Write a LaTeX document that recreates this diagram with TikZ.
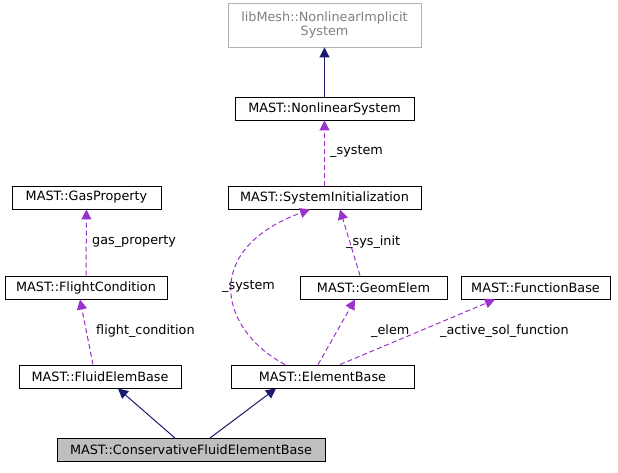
\documentclass[tikz,border=0pt]{standalone}
\usepackage{fontspec}
\setmainfont{DejaVu Sans}
\usetikzlibrary{arrows.meta}
\definecolor{navy}{HTML}{191970}
\definecolor{usecol}{HTML}{9A32CD}
\tikzset{cls/.style={draw,rectangle,line width=0.9pt,minimum height=23pt,inner xsep=4pt,font=\fontsize{12.8}{14.5}\selectfont}}
\tikzset{ext/.style={cls,draw=gray!60,text=gray,align=center}}
\tikzset{inh/.style={navy,line width=1pt,-{Triangle[length=10pt,width=10pt]}}}
\tikzset{use/.style={usecol,line width=1pt,dash pattern=on 5pt off 3pt,-{Triangle[length=10pt,width=10pt]}}}
\tikzset{lbl/.style={font=\fontsize{12.8}{14.5}\selectfont,anchor=west,inner sep=0pt}}

\begin{document}
\begin{tikzpicture}[x=1pt,y=-1pt]
    \useasboundingbox (0,0) rectangle (618,472);

    \node[ext,minimum width=193pt,minimum height=44pt] (lnis) at (324.5,25) {libMesh::NonlinearImplicit\\System};
    \node[cls,minimum width=179pt] (ns) at (324.5,108.5) {MAST::NonlinearSystem};
    \node[cls,minimum width=193pt] (si) at (324.5,197.5) {MAST::SystemInitialization};
    \node[cls,minimum width=149pt] (gp) at (86.5,197.5) {MAST::GasProperty};
    \node[cls,minimum width=162pt] (fc) at (86,287.5) {MAST::FlightCondition};
    \node[cls,minimum width=147pt] (ge) at (373.5,287.5) {MAST::GeomElem};
    \node[cls,minimum width=149pt] (fb) at (535.5,287.5) {MAST::FunctionBase};
    \node[cls,minimum width=162pt] (feb) at (100,376.5) {MAST::FluidElemBase};
    \node[cls,minimum width=183pt] (eb) at (322.5,376.5) {MAST::ElementBase};
    \node[cls,minimum width=268pt,fill=gray!50] (cfeb) at (191,450) {MAST::ConservativeFluidElementBase};

    % inheritance
    \draw[inh] (ns) -- (lnis);
    \draw[inh] (cfeb.north -| 175,0) -- (feb.south -| 118,0);
    \draw[inh] (cfeb.north -| 210,0) -- (eb.south -| 276,0);

    % usage
    \draw[use] (si) -- (ns);
    \draw[use] (fc) -- (gp);
    \draw[use] (feb.north -| 93,0) -- (fc.south -| 80,0);
    \draw[use] (ge.north -| 360,0) -- (si.south -| 340,0);
    \draw[use] (eb.north -| 318,0) -- (ge.south -| 355,0);
    \draw[use] (eb.north -| 340,0) -- (fb.south -| 495,0);
    \draw[use] (eb.north -| 285,0) .. controls (220,330) and (200,250) .. (si.south -| 310,0);

    \node[lbl] at (330,152) {\_system};
    \node[lbl] at (92,242) {gas\_property};
    \node[lbl] at (96,331) {flight\_condition};
    \node[lbl] at (346,242) {\_sys\_init};
    \node[lbl] at (222,287) {\_system};
    \node[lbl] at (371,331) {\_elem};
    \node[lbl] at (440,331) {\_active\_sol\_function};
\end{tikzpicture}
\end{document}
